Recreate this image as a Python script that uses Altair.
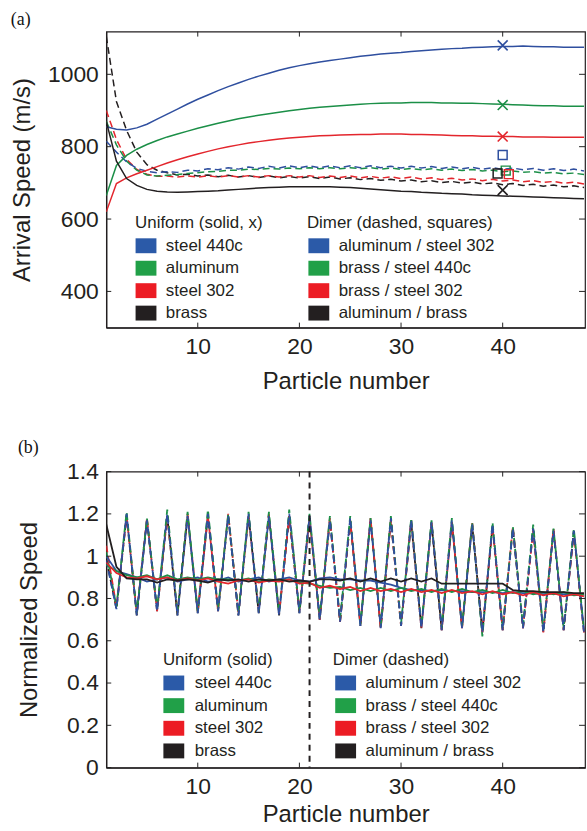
import altair as alt
import pandas as pd

# ---------------- data ----------------
n = list(range(1, 49))

uniform_names = ["steel 440c", "aluminum", "steel 302", "brass"]
dimer_names = ["aluminum / steel 302", "brass / steel 440c", "brass / steel 302", "aluminum / brass"]
line_colors = ["#2f4f9f", "#1b8f47", "#e3262d", "#231f20"]
legend_colors = ["#2b5aa8", "#21a048", "#ec1c24", "#231f20"]

# panel (a) arrival speed (m/s), uniform chains (solid)
a_steel440c = [855, 848, 846, 852, 862, 876, 890, 904, 918, 931, 943, 955, 966, 976, 986, 995,
               1003, 1011, 1018, 1024, 1029, 1034, 1038, 1042, 1046, 1050, 1053, 1056, 1058, 1060,
               1063, 1065, 1067, 1069, 1071, 1072, 1074, 1075, 1076, 1077, 1077, 1078, 1077, 1076,
               1076, 1075, 1075, 1075]
a_aluminum = [665, 748, 776, 793, 806, 817, 827, 835, 843, 851, 858, 865, 871, 877, 882, 887,
              891, 895, 899, 903, 906, 909, 911, 913, 915, 917, 919, 920, 921, 921, 922, 922,
              922, 921, 921, 920, 920, 919, 918, 917, 916, 915, 914, 913, 913, 912, 912, 912]
a_steel302 = [620, 698, 714, 725, 735, 745, 755, 764, 772, 780, 787, 794, 800, 805, 810, 814,
              818, 821, 824, 826, 828, 830, 831, 832, 833, 834, 834, 835, 835, 835, 834, 834,
              833, 832, 831, 830, 830, 829, 829, 828, 828, 827, 827, 827, 826, 826, 826, 826]
a_brass = [870, 760, 712, 693, 682, 677, 675, 674, 675, 676, 677, 678, 680, 682, 684, 686,
           687, 688, 689, 689, 689, 689, 689, 688, 687, 685, 683, 681, 679, 677, 676, 674,
           673, 671, 670, 669, 667, 666, 665, 664, 663, 662, 661, 660, 659, 658, 657, 656]

# panel (a) dimer chains (dashed)
a_al_st302 = [815, 785, 758, 740, 732, 728, 731, 729, 735, 733, 739, 736, 742, 738, 744, 740,
              746, 741, 747, 742, 747, 742, 747, 742, 747, 742, 747, 742, 746, 741, 746, 741,
              745, 740, 744, 739, 743, 738, 742, 737, 741, 736, 740, 735, 739, 734, 738, 733]
a_br_st440 = [870, 805, 760, 735, 722, 719, 721, 723, 726, 728, 731, 732, 735, 735, 738, 737,
              740, 738, 741, 739, 742, 739, 742, 739, 742, 739, 742, 738, 741, 737, 740, 736,
              739, 735, 738, 734, 737, 733, 735, 731, 733, 729, 731, 727, 729, 725, 727, 723]
a_br_st302 = [900, 820, 765, 737, 724, 718, 719, 716, 719, 716, 720, 716, 720, 716, 720, 716,
              720, 716, 720, 716, 720, 715, 719, 715, 719, 714, 718, 713, 717, 712, 716, 711,
              714, 709, 713, 708, 711, 706, 710, 705, 708, 703, 706, 701, 704, 699, 702, 697]
a_al_br = [1105, 925, 845, 785, 750, 735, 728, 722, 724, 719, 722, 717, 721, 716, 720, 715,
           719, 714, 718, 713, 717, 712, 716, 711, 714, 709, 712, 707, 710, 705, 708, 703,
           706, 701, 704, 699, 702, 697, 700, 695, 698, 693, 696, 691, 694, 689, 692, 687]

# panel (a) markers at particle 40
cross_x = [40, 40, 40, 40]
cross_y = [1080, 915, 828, 680]
square_x = [40, 40.3, 40.6, 39.5]
square_y = [777, 734, 724, 726]

# panel (b) normalized speed, uniform (solid)
b_steel440c = [1.00, 0.93, 0.915, 0.90, 0.88, 0.89, 0.90, 0.88, 0.89, 0.90, 0.88, 0.885, 0.90, 0.88,
               0.89, 0.90, 0.88, 0.89, 0.90, 0.885, 0.88, 0.895, 0.90, 0.89, 0.89, 0.885, 0.885, 0.875,
               0.865, 0.85, 0.84, 0.84, 0.835, 0.84, 0.835, 0.835, 0.83, 0.83, 0.83, 0.825, 0.83, 0.825,
               0.825, 0.82, 0.825, 0.82, 0.82, 0.82]
b_aluminum = [0.96, 0.93, 0.91, 0.90, 0.91, 0.89, 0.91, 0.89, 0.90, 0.89, 0.90, 0.89, 0.89, 0.885,
              0.895, 0.88, 0.89, 0.885, 0.89, 0.875, 0.87, 0.86, 0.85, 0.855, 0.84, 0.85, 0.835, 0.85,
              0.835, 0.85, 0.835, 0.845, 0.83, 0.845, 0.83, 0.845, 0.83, 0.84, 0.825, 0.84, 0.825, 0.835,
              0.82, 0.83, 0.82, 0.83, 0.815, 0.82]
b_steel302 = [0.97, 0.92, 0.90, 0.895, 0.905, 0.89, 0.90, 0.885, 0.895, 0.885, 0.895, 0.88, 0.87, 0.885,
              0.89, 0.875, 0.885, 0.88, 0.89, 0.87, 0.875, 0.85, 0.86, 0.845, 0.855, 0.835, 0.85, 0.835,
              0.845, 0.83, 0.845, 0.83, 0.84, 0.825, 0.84, 0.825, 0.835, 0.82, 0.835, 0.82, 0.83, 0.815,
              0.83, 0.815, 0.825, 0.81, 0.82, 0.81]
b_brass = [1.15, 0.95, 0.895, 0.89, 0.89, 0.875, 0.89, 0.885, 0.89, 0.885, 0.875, 0.89, 0.885, 0.89,
           0.88, 0.89, 0.885, 0.89, 0.88, 0.885, 0.88, 0.89, 0.89, 0.885, 0.895, 0.88, 0.895, 0.88,
           0.895, 0.88, 0.895, 0.88, 0.895, 0.87, 0.87, 0.87, 0.87, 0.87, 0.87, 0.87, 0.84, 0.835,
           0.835, 0.83, 0.83, 0.83, 0.825, 0.825]

# panel (b) dimer chains (dashed)
b_al_st302 = [0.98, 0.75, 1.20, 0.72, 1.17, 0.74, 1.20, 0.72, 1.19, 0.73, 1.20, 0.74, 1.19, 0.72,
              1.20, 0.73, 1.19, 0.72, 1.20, 0.73, 1.19, 0.70, 1.17, 0.69, 1.18, 0.67, 1.17, 0.66,
              1.18, 0.67, 1.17, 0.66, 1.16, 0.65, 1.17, 0.66, 1.15, 0.64, 1.15, 0.65, 1.13, 0.66,
              1.13, 0.64, 1.12, 0.65, 1.12, 0.64]
b_br_st440 = [1.02, 0.76, 1.21, 0.73, 1.18, 0.75, 1.22, 0.73, 1.21, 0.74, 1.22, 0.75, 1.20, 0.73,
              1.21, 0.74, 1.21, 0.73, 1.22, 0.74, 1.20, 0.71, 1.19, 0.70, 1.19, 0.68, 1.18, 0.67,
              1.19, 0.68, 1.18, 0.67, 1.17, 0.66, 1.18, 0.67, 1.16, 0.62, 1.16, 0.66, 1.14, 0.67,
              1.15, 0.65, 1.13, 0.66, 1.13, 0.65]
b_br_st302 = [1.05, 0.76, 1.19, 0.73, 1.18, 0.74, 1.19, 0.73, 1.20, 0.74, 1.19, 0.74, 1.20, 0.73,
              1.19, 0.74, 1.20, 0.73, 1.19, 0.74, 1.18, 0.70, 1.18, 0.69, 1.17, 0.68, 1.18, 0.66,
              1.17, 0.67, 1.17, 0.66, 1.16, 0.65, 1.16, 0.66, 1.16, 0.64, 1.14, 0.65, 1.14, 0.66,
              1.12, 0.64, 1.13, 0.65, 1.11, 0.64]
b_al_br = [0.99, 0.75, 1.19, 0.72, 1.17, 0.74, 1.19, 0.72, 1.19, 0.73, 1.19, 0.74, 1.19, 0.72,
           1.19, 0.73, 1.19, 0.72, 1.19, 0.73, 1.18, 0.70, 1.17, 0.69, 1.17, 0.67, 1.17, 0.66,
           1.17, 0.67, 1.16, 0.66, 1.16, 0.65, 1.16, 0.66, 1.15, 0.64, 1.14, 0.65, 1.13, 0.66,
           1.13, 0.64, 1.12, 0.65, 1.12, 0.64]

vline_x = [21]

a_xticks = [10, 20, 30, 40]
a_yticks = [400, 600, 800, 1000]
b_xticks = [10, 20, 30, 40]
b_yticks = [0, 0.2, 0.4, 0.6, 0.8, 1.0, 1.2, 1.4]

a_uniform_header = "Uniform (solid, x)"
a_dimer_header = "Dimer (dashed, squares)"
b_uniform_header = "Uniform (solid)"
b_dimer_header = "Dimer (dashed)"

# ---------------- build tables ----------------
W, H = 482, 298
FONT = "Liberation Sans"

all_names = uniform_names + dimer_names
color_scale = alt.Scale(domain=all_names, range=line_colors + line_colors)
legend_scale = alt.Scale(domain=all_names, range=legend_colors + legend_colors)


def long_table(series_lists, names):
    rows = []
    for name, vals in zip(names, series_lists):
        for xi, v in zip(n, vals):
            rows.append({"n": xi, "v": v, "series": name})
    return pd.DataFrame(rows)


def legend_table(header_u, header_d):
    rows = [{"label": header_u, "col": 0, "row": -1, "series": ""},
            {"label": header_d, "col": 1, "row": -1, "series": ""}]
    for i, nm in enumerate(uniform_names):
        rows.append({"label": nm, "col": 0, "row": i, "series": nm})
    for i, nm in enumerate(dimer_names):
        rows.append({"label": nm, "col": 1, "row": i, "series": nm})
    return pd.DataFrame(rows)


SQUARE = "M-1.4,-1H1.4V1H-1.4Z"
XMARK = "M-1,-1L1,1M-1,1L1,-1"


def panel(solid_df, dashed_df, xdom, ydom, xticks, yticks, ytitle, yfmt,
          leg_df, leg_x, leg_y, extra_layers, dash_width, solid_width, pads):
    xlp, xtp, ytp = pads
    xs = alt.Scale(domain=xdom, nice=False, zero=False)
    ys = alt.Scale(domain=ydom, nice=False, zero=False)
    xax = alt.Axis(values=xticks, title="Particle number", format="d", ticks=False,
                   labelPadding=xlp, titlePadding=xtp, grid=False)
    yax = alt.Axis(values=yticks, title=ytitle, format=yfmt, ticks=False,
                   labelPadding=8, titlePadding=ytp, grid=False)

    dashed = alt.Chart(dashed_df).mark_line(strokeDash=[7, 4], strokeWidth=dash_width, clip=True).encode(
        x=alt.X("n:Q", scale=xs, axis=xax),
        y=alt.Y("v:Q", scale=ys, axis=yax),
        color=alt.Color("series:N", scale=color_scale, legend=None),
        order=alt.Order("n:Q"),
    )
    solid = alt.Chart(solid_df).mark_line(strokeWidth=solid_width, clip=True).encode(
        x=alt.X("n:Q", scale=xs, axis=xax),
        y=alt.Y("v:Q", scale=ys, axis=yax),
        color=alt.Color("series:N", scale=color_scale, legend=None),
        order=alt.Order("n:Q"),
    )

    xt = pd.DataFrame({"t": xticks})
    yt = pd.DataFrame({"t": yticks})
    tick_color = "#222"
    top_ticks = alt.Chart(xt).mark_rule(color=tick_color).encode(
        x=alt.X("t:Q", scale=xs), y=alt.value(0), y2=alt.value(5))
    bot_ticks = alt.Chart(xt).mark_rule(color=tick_color).encode(
        x=alt.X("t:Q", scale=xs), y=alt.value(H), y2=alt.value(H - 5))
    left_ticks = alt.Chart(yt).mark_rule(color=tick_color).encode(
        y=alt.Y("t:Q", scale=ys), x=alt.value(0), x2=alt.value(5))
    right_ticks = alt.Chart(yt).mark_rule(color=tick_color).encode(
        y=alt.Y("t:Q", scale=ys), x=alt.value(W - 6), x2=alt.value(W))

    lx_sq, lx_tx, lx_hd = leg_x
    ly0, dy = leg_y
    leg_base = alt.Chart(leg_df).transform_calculate(
        sx=f"datum.col == 0 ? {lx_sq[0]} : {lx_sq[1]}",
        tx=f"datum.row < 0 ? (datum.col == 0 ? {lx_hd[0]} : {lx_hd[1]}) : (datum.col == 0 ? {lx_tx[0]} : {lx_tx[1]})",
        ty=f"{ly0} + (datum.row + 1) * {dy}",
    )
    leg_sq = leg_base.transform_filter("datum.row >= 0").mark_point(
        shape=SQUARE, filled=True, size=225, opacity=1, strokeWidth=0).encode(
        x=alt.X("sx:Q", scale=None), y=alt.Y("ty:Q", scale=None),
        fill=alt.Color("series:N", scale=legend_scale, legend=None))
    leg_tx = leg_base.mark_text(align="left", baseline="middle", fontSize=17, font=FONT,
                                color="#231f20").encode(
        x=alt.X("tx:Q", scale=None), y=alt.Y("ty:Q", scale=None), text="label:N")

    layers = [dashed, solid] + extra_layers(xs, ys) + [top_ticks, bot_ticks, left_ticks, right_ticks,
                                                       leg_sq, leg_tx]
    return alt.layer(*layers).resolve_scale(fill="independent").properties(width=W, height=H)


# panel (a)
a_solid = long_table([a_steel440c, a_aluminum, a_steel302, a_brass], uniform_names)
a_dashed = long_table([a_al_br, a_br_st302, a_br_st440, a_al_st302], dimer_names[::-1])
cross_df = pd.DataFrame({"x": cross_x, "y": cross_y, "series": uniform_names})
sq_df = pd.DataFrame({"x": square_x, "y": square_y, "series": dimer_names})


def a_extra(xs, ys):
    crosses = alt.Chart(cross_df).mark_point(shape=XMARK, filled=False, size=100, strokeWidth=1.6,
                                             opacity=1).encode(
        x=alt.X("x:Q", scale=xs), y=alt.Y("y:Q", scale=ys),
        color=alt.Color("series:N", scale=color_scale, legend=None))
    squares = alt.Chart(sq_df).mark_point(shape="square", filled=False, size=80, strokeWidth=1.5,
                                          opacity=1).encode(
        x=alt.X("x:Q", scale=xs), y=alt.Y("y:Q", scale=ys),
        color=alt.Color("series:N", scale=color_scale, legend=None))
    return [crosses, squares]


panel_a = panel(a_solid, a_dashed, [1, 48.1], [300, 1118], a_xticks, a_yticks,
                "Arrival Speed (m/s)", "d",
                legend_table(a_uniform_header, a_dimer_header),
                ((40, 214), (60, 234), (29, 202)), (193, 22.6), a_extra, 1.5, 1.5,
                (8, 11, 13)).properties(
    title=alt.TitleParams("(a)", anchor="start", font="Liberation Serif", fontSize=18,
                          fontWeight="normal", offset=2, color="#111"))

# panel (b)
b_solid = long_table([b_steel440c, b_aluminum, b_steel302, b_brass], uniform_names)
b_dashed = long_table([b_al_br, b_br_st302, b_br_st440, b_al_st302], dimer_names[::-1])
vl_df = pd.DataFrame({"x": vline_x})


def b_extra(xs, ys):
    vline = alt.Chart(vl_df).mark_rule(color="#231f20", strokeDash=[6, 5], strokeWidth=2).encode(
        x=alt.X("x:Q", scale=xs))
    return [vline]


panel_b = panel(b_solid, b_dashed, [1, 48.1], [0, 1.4], b_xticks, b_yticks,
                "Normalized Speed", ".1~f",
                legend_table(b_uniform_header, b_dimer_header),
                ((68, 241), (89, 261), (57, 228)), (190, 22.8), b_extra, 1.8, 1.8,
                (8, 4, 25)).properties(
    title=alt.TitleParams("(b)", anchor="start", font="Liberation Serif", fontSize=18,
                          fontWeight="normal", offset=4, color="#111"))

chart = alt.vconcat(panel_a, panel_b, spacing=44).properties(
    padding={"left": 10, "top": 7, "right": 0, "bottom": 2},
    background="white",
).configure_view(stroke="#231f20", strokeWidth=1.2).configure_axis(
    domainColor="#231f20", domainWidth=1.2, labelFont=FONT, titleFont=FONT,
    labelFontSize=23, titleFontSize=24, labelColor="#231f20", titleColor="#231f20",
    titleFontWeight="normal"
)

chart.save("out.html", embed_options={"renderer": "svg", "actions": False})
